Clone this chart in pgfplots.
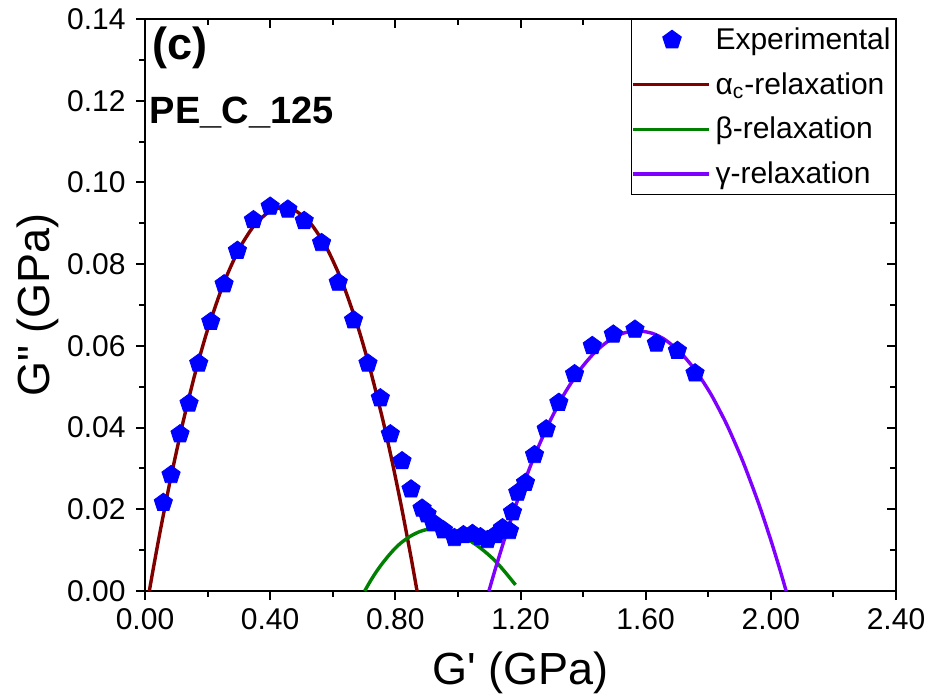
\documentclass[border=0pt]{standalone}
\usepackage{fontspec}
\setmainfont{Liberation Sans}
\newfontfamily\plainfont{Liberation Sans}
\usepackage{pgfplots}
\pgfplotsset{compat=1.18}
\definecolor{expblue}{RGB}{0,0,255}
\definecolor{alphared}{RGB}{128,0,0}
\definecolor{betagreen}{RGB}{0,128,0}
\definecolor{gammaviolet}{RGB}{128,0,255}
\pgfplotsset{
  commonax/.style={
    scale only axis, width=375.5pt, height=286pt,
    xmin=0, xmax=2.4, ymin=0, ymax=0.14,
    xtick={0,0.4,0.8,1.2,1.6,2.0,2.4},
    ytick={0,0.02,0.04,0.06,0.08,0.10,0.12,0.14},
    minor x tick num=1, minor y tick num=1,
    scaled y ticks=false, scaled x ticks=false,
    axis line style={line width=1pt},
    major tick length=4.5pt, minor tick length=2.8pt,
    every tick/.style={black, line width=1pt},
  }
}
\begin{document}
\begin{tikzpicture}
\useasboundingbox (-72.5pt,-53.5pt) rectangle (393.5pt,295.5pt);
% overlay axis for inward ticks on top and right
\begin{axis}[commonax, tick align=inside, xtick pos=right, ytick pos=right,
  xticklabels={}, yticklabels={}]
\end{axis}
\begin{axis}[commonax, tick align=outside, xtick pos=left, ytick pos=left,
  x tick label style={font=\fontsize{15}{18}\selectfont, inner sep=1pt,
    /pgf/number format/.cd, fixed, fixed zerofill, precision=2, assume math mode=true},
  y tick label style={font=\fontsize{15}{18}\selectfont, inner sep=1pt,
    /pgf/number format/.cd, fixed, fixed zerofill, precision=2, assume math mode=true},
  xticklabel shift=3pt, yticklabel shift=4pt,
  xlabel={\plainfont G' (GPa)}, ylabel={\plainfont G" (GPa)},
  label style={font=\fontsize{22.5}{26}\selectfont, inner sep=0pt},
  xlabel style={at={(axis description cs:0.5,-0.105)}, anchor=north},
  ylabel style={at={(axis description cs:-0.1145,0.5)}, anchor=south},
  legend cell align=left,
  legend style={at={(1,1)}, anchor=north east, draw=black, line width=0.6pt,
    font=\fontsize{15}{18}\selectfont, inner xsep=0pt, inner ysep=1pt,
    row sep=4pt, column sep=0pt, nodes={inner xsep=2.4pt, inner ysep=3pt}},
  legend image code/.code={\draw[mark repeat=2,mark phase=2,#1] plot coordinates {(-2.5pt,0pt)(17pt,0pt)(35.5pt,0pt)};},
]
\addplot[only marks, mark=pentagon*, mark size=4.8pt, color=expblue] coordinates {
(0.0586,0.0216) (0.0832,0.0284) (0.112,0.0384) (0.1408,0.0459) (0.1718,0.0557)
(0.2102,0.0659) (0.2528,0.0751) (0.2954,0.0833) (0.3466,0.0908) (0.400,0.0941)
(0.4566,0.0934) (0.5088,0.0906) (0.5642,0.0852) (0.6176,0.0755) (0.6666,0.0663)
(0.7126,0.0557) (0.752,0.0472) (0.784,0.0384) (0.8214,0.0318) (0.8502,0.0249)
(0.8854,0.0202) (0.9014,0.0188) (0.9216,0.0166) (0.9536,0.0149) (0.9888,0.0130)
(1.0176,0.0137) (1.0464,0.0140) (1.072,0.0132) (1.0944,0.0125) (1.12,0.0137)
(1.1424,0.0154) (1.1648,0.0147) (1.1744,0.0193) (1.1914,0.0241) (1.216,0.0265)
(1.2448,0.0333) (1.2822,0.0396) (1.3226,0.0461) (1.3728,0.0531) (1.4294,0.0600)
(1.4966,0.0628) (1.5658,0.0640) (1.6342,0.0606) (1.7014,0.0588) (1.7578,0.0533)
};
\addlegendentry{Experimental}
\addplot[alphared, line width=1.7pt, smooth, tension=0.4] coordinates {
(0.0138,0) (0.03,0.00698) (0.05,0.01522) (0.08,0.02681) (0.12,0.04083)
(0.16,0.05321) (0.20,0.06395) (0.25,0.07506) (0.30,0.08361) (0.35,0.08959)
(0.40,0.09301) (0.4416,0.0939) (0.48,0.09314) (0.53,0.08989) (0.58,0.08407)
(0.63,0.07569) (0.68,0.06474) (0.72,0.05413) (0.76,0.04188) (0.79,0.03162)
(0.82,0.02043) (0.85,0.00832) (0.8694,0)
};
\addlegendentry{α\textsubscript{c}-relaxation}
\addplot[betagreen, line width=1.7pt, smooth, tension=0.5] coordinates {
(0.702,0) (0.72,0.0024) (0.74,0.0048) (0.76,0.0069) (0.78,0.0088) (0.80,0.0105)
(0.82,0.0119) (0.85,0.0135) (0.88,0.0146) (0.91,0.0152) (0.94,0.0153) (0.97,0.0148)
(1.00,0.0139) (1.03,0.0127) (1.06,0.0112) (1.09,0.0094) (1.12,0.0073) (1.15,0.0047) (1.184,0.0015)
};
\addlegendentry{β-relaxation}
\addplot[gammaviolet, line width=1.7pt, smooth, tension=0.4] coordinates {
(1.099,0) (1.12,0.00551) (1.15,0.01294) (1.19,0.02207) (1.24,0.03220)
(1.29,0.04093) (1.34,0.04824) (1.39,0.05414) (1.44,0.05863) (1.49,0.06171)
(1.53,0.06315) (1.574,0.0637) (1.62,0.06310) (1.66,0.06161) (1.71,0.05848)
(1.76,0.05393) (1.81,0.04798) (1.86,0.04061) (1.91,0.03183) (1.96,0.02164)
(2.00,0.01246) (2.03,0.00499) (2.049,0)
};
\addlegendentry{γ-relaxation}
\node[anchor=west, inner sep=0pt, font=\fontsize{22.5}{26}\selectfont\bfseries] at (rel axis cs:0.009,0.949) {(c)};
\node[anchor=west, inner sep=0pt, font=\fontsize{19}{22}\selectfont\bfseries] at (rel axis cs:0.006,0.837) {PE\_C\_125};
\end{axis}
\end{tikzpicture}
\end{document}
